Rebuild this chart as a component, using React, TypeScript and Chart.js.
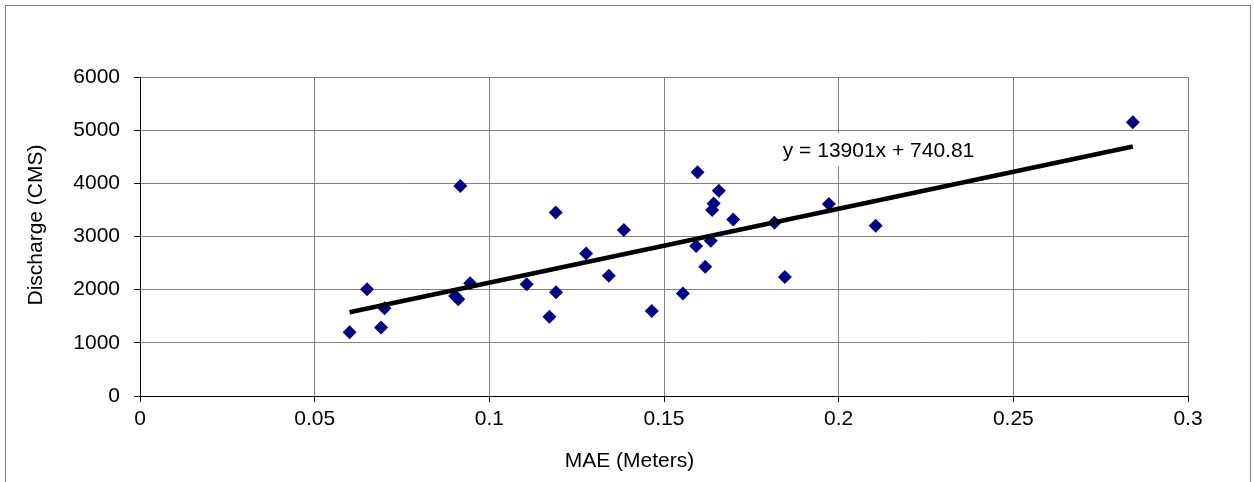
import React, { useEffect, useRef } from 'react';
import { Chart, registerables } from 'chart.js';

Chart.register(...registerables);

// ---- data ----
const MAE_METERS = [
  0.06, 0.065, 0.069, 0.07, 0.0902, 0.0911, 0.0917, 0.0945, 0.1107, 0.1172,
  0.119, 0.1191, 0.1277, 0.1342, 0.1385, 0.1465, 0.1554, 0.1592, 0.1596, 0.1618,
  0.1634, 0.1638, 0.1642, 0.1657, 0.1698, 0.1816, 0.1846, 0.1972, 0.2106, 0.2842,
];
const DISCHARGE_CMS = [
  1200, 2010, 1290, 1650, 1880, 1820, 3950, 2120, 2100, 1490,
  3450, 1950, 2680, 2260, 3120, 1600, 1930, 2820, 4210, 2430,
  2920, 3500, 3620, 3860, 3320, 3260, 2240, 3610, 3200, 5150,
];
const TREND_SLOPE = 13901;
const TREND_INTERCEPT = 740.81;
const TREND_LABEL = 'y = 13901x + 740.81';
const TREND_LABEL_AT = [0.184, 4490]; // data coords of label baseline-left

const X_TICK_MIN = 0;
const X_TICK_MAX = 0.3;
const X_TICK_STEP = 0.05;
const Y_TICK_MIN = 0;
const Y_TICK_MAX = 6000;
const Y_TICK_STEP = 1000;

const X_TITLE = 'MAE (Meters)';
const Y_TITLE = 'Discharge (CMS)';

const FONT_FAMILY = '"Liberation Sans", Arial, Helvetica, sans-serif';
const FONT_SIZE = 21;

const trendLabelPlugin = {
  id: 'trendLabel',
  beforeDatasetsDraw(chart: any) {
    const { ctx, scales } = chart;
    const px = scales.x.getPixelForValue(TREND_LABEL_AT[0]);
    const py = scales.y.getPixelForValue(TREND_LABEL_AT[1]);
    ctx.save();
    ctx.font = `${FONT_SIZE}px ${FONT_FAMILY}`;
    const w = ctx.measureText(TREND_LABEL).width;
    ctx.fillStyle = '#ffffff';
    ctx.fillRect(px - 4, py - 24, w + 8, 33);
    ctx.restore();
  },
  afterDatasetsDraw(chart: any) {
    const { ctx, scales } = chart;
    const px = scales.x.getPixelForValue(TREND_LABEL_AT[0]);
    const py = scales.y.getPixelForValue(TREND_LABEL_AT[1]);
    ctx.save();
    ctx.font = `${FONT_SIZE}px ${FONT_FAMILY}`;
    ctx.fillStyle = '#000000';
    ctx.textAlign = 'left';
    ctx.textBaseline = 'alphabetic';
    ctx.fillText(TREND_LABEL, px, py);
    ctx.restore();
  },
};

const yTitlePlugin = {
  id: 'yTitle',
  afterDraw(chart: any) {
    const { ctx } = chart;
    ctx.save();
    ctx.translate(36, 225);
    ctx.rotate(-Math.PI / 2);
    ctx.font = `${FONT_SIZE}px ${FONT_FAMILY}`;
    ctx.fillStyle = '#000000';
    ctx.textAlign = 'center';
    ctx.textBaseline = 'middle';
    ctx.fillText(Y_TITLE, 0, 0);
    ctx.restore();
  },
};

export default function App() {
  const canvasRef = useRef<HTMLCanvasElement | null>(null);

  useEffect(() => {
    if (!canvasRef.current) return;
    const points = MAE_METERS.map((x, i) => ({ x, y: DISCHARGE_CMS[i] }));
    const xMin = Math.min(...MAE_METERS);
    const xMax = Math.max(...MAE_METERS);
    const trend = [
      { x: xMin, y: TREND_SLOPE * xMin + TREND_INTERCEPT },
      { x: xMax, y: TREND_SLOPE * xMax + TREND_INTERCEPT },
    ];
    const font = { family: FONT_FAMILY, size: FONT_SIZE, weight: 'normal' as const };

    const chart = new Chart(canvasRef.current, {
      type: 'scatter',
      data: {
        datasets: [
          {
            label: 'Discharge',
            data: points,
            pointStyle: 'rectRot',
            pointRadius: 7,
            pointBackgroundColor: '#000080',
            pointBorderColor: '#000080',
            pointBorderWidth: 0,
            order: 1,
          },
          {
            label: 'Trend',
            data: trend,
            showLine: true,
            borderColor: '#000000',
            borderWidth: 4.5,
            pointRadius: 0,
            order: 0,
          } as any,
        ],
      },
      options: {
        animation: false,
        responsive: true,
        maintainAspectRatio: false,
        layout: { padding: { top: 77, right: 0, left: 5, bottom: 0 } },
        plugins: {
          legend: { display: false },
          tooltip: { enabled: false },
          title: {
            display: true,
            position: 'bottom',
            text: X_TITLE,
            color: '#000000',
            font,
            padding: { top: 0, bottom: 8 },
          },
        },
        scales: {
          x: {
            type: 'linear',
            min: X_TICK_MIN,
            max: X_TICK_MAX,
            ticks: {
              stepSize: X_TICK_STEP,
              color: '#000000',
              font,
              padding: 5,
              maxRotation: 0,
              callback: (v: any) => String(Number(Number(v).toFixed(2))),
            },
            grid: { color: '#808080', tickColor: '#000000', tickLength: 6, lineWidth: 1 },
            border: { color: '#000000', width: 1 },
            afterFit: (s: any) => {
              s.height = 52.8;
            },
          },
          y: {
            type: 'linear',
            min: Y_TICK_MIN,
            max: Y_TICK_MAX,
            ticks: {
              stepSize: Y_TICK_STEP,
              color: '#000000',
              font,
              padding: 14,
              callback: (v: any) => String(Math.round(Number(v))),
            },
            grid: { color: '#808080', tickColor: '#000000', tickLength: 6, lineWidth: 1 },
            border: { color: '#000000', width: 1 },
            afterFit: (s: any) => {
              s.width = 135;
            },
          },
          rightSpace: {
            type: 'linear',
            position: 'right',
            display: true,
            grid: { display: false, drawTicks: false },
            ticks: { display: false },
            border: { display: false },
            afterFit: (s: any) => {
              s.width = 66;
            },
          } as any,
        },
      },
      plugins: [trendLabelPlugin, yTitlePlugin],
    });
    return () => chart.destroy();
  }, []);

  return (
    <div style={{ position: 'absolute', left: 0, top: 0, width: 1254, height: 482, overflow: 'hidden', background: '#ffffff' }}>
      <div
        style={{
          position: 'absolute',
          left: 5,
          top: 5,
          width: 1244,
          height: 540,
          borderLeft: '1px solid #808080',
          borderTop: '1px solid #808080',
          borderRight: '1px solid #808080',
        }}
      />
      <div style={{ position: 'absolute', left: 0, top: 0, width: 1254, height: 482 }}>
        <canvas ref={canvasRef} />
      </div>
    </div>
  );
}
